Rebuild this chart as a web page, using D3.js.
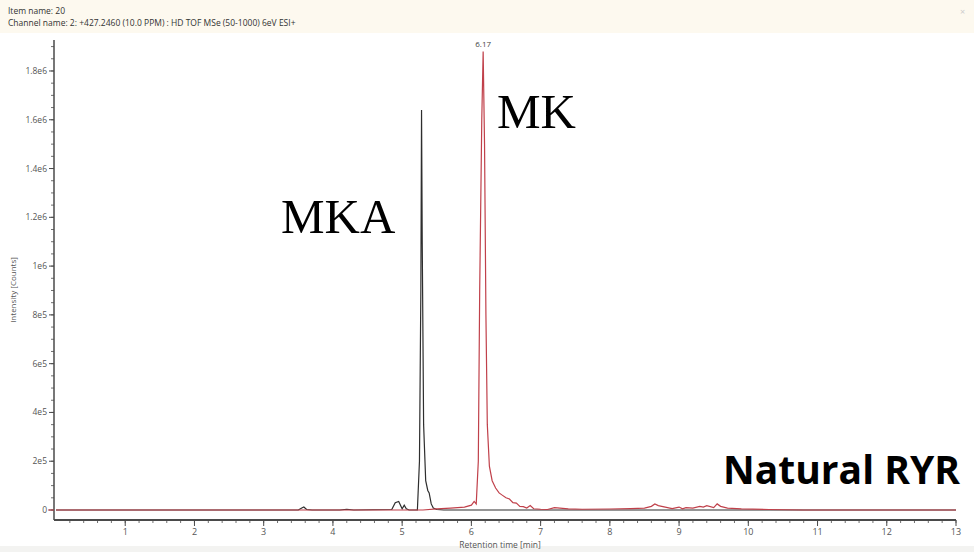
<!DOCTYPE html>
<html>
<head>
<meta charset="utf-8">
<script src="https://d3js.org/d3.v7.min.js"></script>
<style>
  body { margin: 0; background: #fff; }
  svg { display: block; }
</style>
</head>
<body>
<div id="chart"></div>
<script>
// black trace (MKA), retention time [min] / intensity [counts]
var mkaTime = [0, 3.5, 3.55, 3.58, 3.62, 3.7, 4.1, 4.2, 4.3, 4.85, 4.9, 4.95, 5.0, 5.03, 5.06, 5.1, 5.22, 5.25, 5.27, 5.28, 5.29, 5.31, 5.34, 5.37, 5.39, 5.42, 5.45, 5.5, 5.6, 6.0, 13];
var mkaValue = [0, 0, 8000, 12000, 2000, 0, 0, 3000, 0, 2000, 30000, 35000, 5000, 20000, 5000, 0, 0, 200000, 900000, 1640000, 1100000, 350000, 120000, 80000, 70000, 25000, 8000, 2000, 0, 0, 0];

// red trace (MK)
var mkTime = [0, 5.3, 5.5, 5.7, 5.9, 6.0, 6.04, 6.07, 6.1, 6.12, 6.15, 6.17, 6.19, 6.21, 6.23, 6.26, 6.3, 6.35, 6.4, 6.45, 6.5, 6.55, 6.6, 6.65, 6.7, 6.75, 6.8, 6.85, 6.9, 7.0, 7.1, 7.2, 7.4, 7.6, 8.0, 8.3, 8.5, 8.6, 8.65, 8.7, 8.8, 8.9, 9.0, 9.05, 9.1, 9.2, 9.3, 9.35, 9.4, 9.5, 9.55, 9.6, 9.7, 9.9, 10.3, 10.8, 13];
var mkValue = [0, 0, 5000, 8000, 12000, 20000, 35000, 25000, 200000, 900000, 1600000, 1880000, 1500000, 800000, 350000, 180000, 120000, 90000, 70000, 60000, 50000, 45000, 30000, 28000, 15000, 14000, 8000, 18000, 5000, 3000, 2000, 10000, 5000, 3000, 4000, 6000, 8000, 15000, 25000, 18000, 12000, 6000, 12000, 5000, 10000, 8000, 15000, 12000, 18000, 10000, 25000, 15000, 8000, 5000, 2000, 0, 0];

var xTicks = [1, 2, 3, 4, 5, 6, 7, 8, 9, 10, 11, 12, 13];
var yTicks = [0, 200000, 400000, 600000, 800000, 1000000, 1200000, 1400000, 1600000, 1800000];
var yTickLabels = ["0", "2e5", "4e5", "6e5", "8e5", "1e6", "1.2e6", "1.4e6", "1.6e6", "1.8e6"];

var W = 974, H = 552;
var svg = d3.select("#chart").append("svg").attr("width", W).attr("height", H);

// header band and bottom strip
svg.append("rect").attr("x", 0).attr("y", 0).attr("width", W).attr("height", 33).attr("fill", "#fdf9ef");
svg.append("rect").attr("x", 0).attr("y", 546).attr("width", W).attr("height", 6).attr("fill", "#f3f3f1");

svg.append("text").attr("x", 8).attr("y", 14).text("Item name: 20")
  .attr("font-family", "Open Sans").attr("font-size", 8.5).attr("fill", "#333");
svg.append("text").attr("x", 8).attr("y", 26).text("Channel name: 2: +427.2460 (10.0 PPM) : HD TOF MSe (50-1000) 6eV ESI+")
  .attr("font-family", "Open Sans").attr("font-size", 8.5).attr("fill", "#333");
svg.append("text").attr("x", 960).attr("y", 15).text("\u00d7")
  .attr("font-family", "Open Sans").attr("font-size", 9).attr("fill", "#ccc");

var x = d3.scaleLinear().domain([0, 13]).range([56, 956]);
var y = d3.scaleLinear().domain([0, 1927000]).range([510, 40]);

// axis lines
var axisColor = "#4a4a4a";
svg.append("line").attr("x1", 54).attr("x2", 54).attr("y1", 40).attr("y2", 520)
  .attr("stroke", axisColor).attr("stroke-width", 1.5);
svg.append("line").attr("x1", 54).attr("x2", 956).attr("y1", 520).attr("y2", 520)
  .attr("stroke", axisColor).attr("stroke-width", 2);

// y ticks (major + minor)
var yMinor = d3.range(0, 1927000, 50000);
svg.selectAll(".ymin").data(yMinor).enter().append("line")
  .attr("x1", 51).attr("x2", 54)
  .attr("y1", function(d) { return y(d); }).attr("y2", function(d) { return y(d); })
  .attr("stroke", axisColor).attr("stroke-width", 0.8);
svg.selectAll(".ymaj").data(yTicks).enter().append("line")
  .attr("x1", 49).attr("x2", 54)
  .attr("y1", function(d) { return y(d); }).attr("y2", function(d) { return y(d); })
  .attr("stroke", axisColor).attr("stroke-width", 1);
svg.selectAll(".ylab").data(yTicks).enter().append("text")
  .attr("x", 47).attr("y", function(d) { return y(d) + 3; })
  .attr("text-anchor", "end")
  .attr("font-family", "Open Sans").attr("font-size", 8.5).attr("fill", "#555")
  .text(function(d, i) { return yTickLabels[i]; });

// x ticks (major + minor)
var xMinor = d3.range(0.2, 13.01, 0.2);
svg.selectAll(".xmin").data(xMinor).enter().append("line")
  .attr("x1", function(d) { return x(d); }).attr("x2", function(d) { return x(d); })
  .attr("y1", 520).attr("y2", 523)
  .attr("stroke", axisColor).attr("stroke-width", 0.8);
svg.selectAll(".xmaj").data(xTicks).enter().append("line")
  .attr("x1", function(d) { return x(d); }).attr("x2", function(d) { return x(d); })
  .attr("y1", 520).attr("y2", 526)
  .attr("stroke", axisColor).attr("stroke-width", 1);
svg.selectAll(".xlab").data(xTicks).enter().append("text")
  .attr("x", function(d) { return x(d); }).attr("y", 535)
  .attr("text-anchor", "middle")
  .attr("font-family", "Open Sans").attr("font-size", 9).attr("fill", "#555")
  .text(function(d) { return d; });

// axis titles
svg.append("text").attr("x", 500).attr("y", 548).attr("text-anchor", "middle")
  .attr("font-family", "Open Sans").attr("font-size", 8.5).attr("fill", "#555")
  .text("Retention time [min]");
svg.append("text").attr("transform", "translate(16,290) rotate(-90)").attr("text-anchor", "middle")
  .attr("font-family", "Open Sans").attr("font-size", 8).attr("fill", "#555")
  .text("Intensity [Counts]");

// traces
var line = d3.line()
  .x(function(d) { return x(d[0]); })
  .y(function(d) { return y(d[1]); });

svg.append("line").attr("x1", 48).attr("x2", 54).attr("y1", y(0)).attr("y2", y(0))
  .attr("stroke", "#c0404a").attr("stroke-width", 1);

svg.append("path").datum(d3.zip(mkaTime, mkaValue))
  .attr("d", line).attr("fill", "none").attr("stroke", "#2e2e2e").attr("stroke-width", 1.2);
svg.append("path").datum(d3.zip(mkTime, mkValue))
  .attr("d", line).attr("fill", "none").attr("stroke", "#c0404a").attr("stroke-width", 1.2);

// peak label
svg.append("text").attr("x", x(6.17)).attr("y", y(1880000) - 4).attr("text-anchor", "middle")
  .attr("font-family", "Open Sans").attr("font-size", 8).attr("fill", "#444")
  .text("6.17");

// annotations
svg.append("text").attr("x", 281).attr("y", 233)
  .attr("font-family", "Liberation Serif").attr("font-size", 49).attr("fill", "#000")
  .text("MKA");
svg.append("text").attr("x", 497).attr("y", 128)
  .attr("font-family", "Liberation Serif").attr("font-size", 49).attr("fill", "#000")
  .text("MK");
svg.append("text").attr("x", 960).attr("y", 484).attr("text-anchor", "end")
  .attr("font-family", "Open Sans").attr("font-weight", "bold").attr("font-size", 39).attr("fill", "#000")
  .text("Natural RYR");
</script>
</body>
</html>
